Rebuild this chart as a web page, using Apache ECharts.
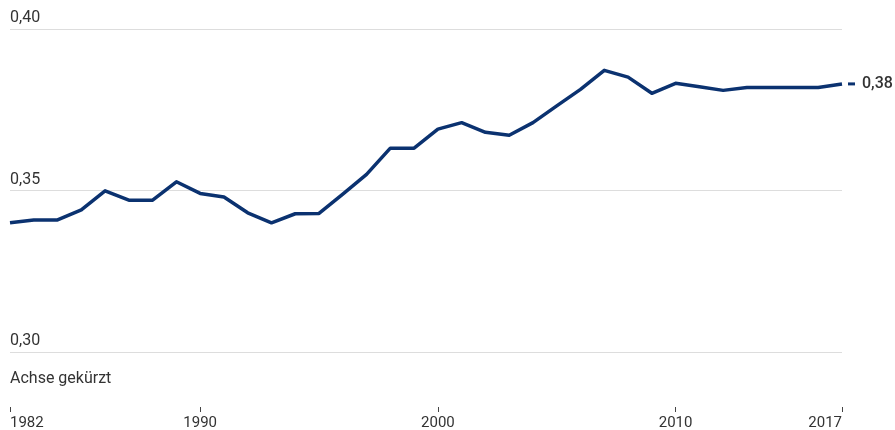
<!DOCTYPE html>
<html>
<head>
<meta charset="utf-8">
<script src="https://cdn.jsdelivr.net/npm/echarts@6/dist/echarts.min.js"></script>
<style>
html,body{margin:0;padding:0;background:#fff;}
#c{width:895px;height:430px;}
</style>
</head>
<body>
<div id="c"></div>
<script>
const years = [1982,1983,1984,1985,1986,1987,1988,1989,1990,1991,1992,1993,1994,1995,1996,1997,1998,1999,2000,2001,2002,2003,2004,2005,2006,2007,2008,2009,2010,2011,2012,2013,2014,2015,2016,2017];
const values = [0.3400,0.3409,0.3409,0.3440,0.3499,0.3470,0.3470,0.3527,0.3491,0.3480,0.3431,0.3400,0.3428,0.3429,0.3489,0.3550,0.3631,0.3631,0.3690,0.3710,0.3680,0.3671,0.3710,0.3762,0.3813,0.3872,0.3851,0.3801,0.3832,0.3821,0.3810,0.3819,0.3819,0.3819,0.3819,0.3830];
const xTicks = [1982,1990,2000,2010,2017];
const yMin = 0.30, yMax = 0.40, yStep = 0.05;
const axisNote = 'Achse gekürzt';

const navy = '#0b3270';
const textColor = '#333333';
const font = 'Roboto, "Liberation Sans", sans-serif';

const chart = echarts.init(document.getElementById('c'));
chart.setOption({
  animation: false,
  backgroundColor: '#ffffff',
  grid: {left: 10, right: 53, top: 29, bottom: 78, containLabel: false, outerBoundsMode: 'none'},
  xAxis: {
    type: 'value', min: years[0], max: years[years.length-1],
    offset: 55,
    axisLine: {show: false},
    splitLine: {show: false},
    axisTick: {show: true, length: 5, customValues: xTicks, lineStyle: {color: '#444', width: 1}},
    axisLabel: {
      customValues: xTicks, margin: 9,
      color: textColor, fontFamily: font, fontSize: 15,
      alignMinLabel: 'left', alignMaxLabel: 'right',
      formatter: v => String(v)
    }
  },
  yAxis: {
    type: 'value', min: yMin, max: yMax, interval: yStep,
    axisLine: {show: false}, axisTick: {show: false},
    splitLine: {show: true, lineStyle: {color: '#dddddd', width: 1}},
    axisLabel: {
      inside: true, margin: 0, verticalAlign: 'bottom', padding: [0,0,3,0],
      color: textColor, fontFamily: font, fontSize: 16,
      formatter: v => v.toFixed(2).replace('.', ',')
    }
  },
  graphic: [{
    type: 'text', left: 10, top: 371,
    style: {text: axisNote, fill: textColor, font: '16px ' + font}
  }],
  series: [{
    type: 'line',
    data: years.map((y, i) => [y, values[i]]),
    symbol: 'none',
    lineStyle: {color: navy, width: 3.5, join: 'round'},
    endLabel: {
      show: true, distance: 6,
      formatter: p => '{d|}{t|' + p.value[1].toFixed(2).replace('.', ',') + '}',
      rich: {
        d: {width: 7, height: 3, backgroundColor: navy, verticalAlign: 'middle'},
        t: {color: textColor, fontFamily: font, fontSize: 16, fontWeight: 500, padding: [0,0,0,7], verticalAlign: 'middle'}
      }
    }
  }]
});
</script>
</body>
</html>
